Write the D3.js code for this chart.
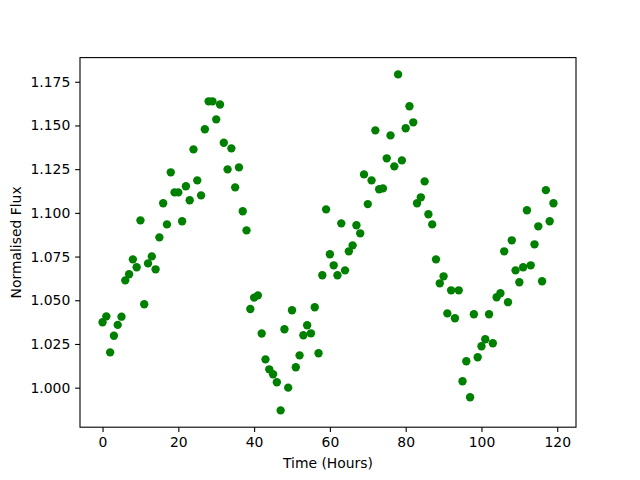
<!DOCTYPE html>
<html>
<head>
<meta charset="utf-8">
<script src="https://cdn.jsdelivr.net/npm/d3@7"></script>
<style>
  body { margin: 0; background: #fff; }
  text { font-family: "DejaVu Sans", sans-serif; }
</style>
</head>
<body>
<div id="chart"></div>
<script>
// hours since start of observation
const hours = d3.range(0, 120);

// normalised flux, one reading per hour
const flux = [
  1.0374, 1.0408, 1.0202, 1.0297, 1.0359, 1.0406, 1.0614, 1.0649, 1.0734, 1.0689,
  1.0957, 1.0477, 1.0711, 1.0751, 1.0677, 1.0860, 1.1055, 1.0934, 1.1232, 1.1117,
  1.1117, 1.0952, 1.1152, 1.1072, 1.1363, 1.1186, 1.1100, 1.1478, 1.1638, 1.1638,
  1.1535, 1.1620, 1.1401, 1.1249, 1.1369, 1.1146, 1.1260, 1.1009, 1.0900, 1.0450,
  1.0515, 1.0528, 1.0310, 1.0162, 1.0105, 1.0077, 1.0031, 0.9870, 1.0334, 1.0000,
  1.0443, 1.0117, 1.0185, 1.0300, 1.0357, 1.0311, 1.0460, 1.0197, 1.0643, 1.1020,
  1.0763, 1.0700, 1.0643, 1.0940, 1.0671, 1.0780, 1.0814, 1.0929, 1.0883, 1.1220,
  1.1050, 1.1186, 1.1472, 1.1135, 1.1140, 1.1312, 1.1443, 1.1266, 1.1792, 1.1300,
  1.1484, 1.1610, 1.1518, 1.1055, 1.1089, 1.1180, 1.0992, 1.0934, 1.0734, 1.0597,
  1.0637, 1.0425, 1.0557, 1.0397, 1.0557, 1.0037, 1.0151, 0.9945, 1.0420, 1.0174,
  1.0237, 1.0277, 1.0420, 1.0254, 1.0517, 1.0540, 1.0780, 1.0489, 1.0843, 1.0671,
  1.0603, 1.0689, 1.1015, 1.0700, 1.0820, 1.0923, 1.0609, 1.1130, 1.0952, 1.1055
];

const xTicks = [0, 20, 40, 60, 80, 100, 120];
const yTicks = [1.000, 1.025, 1.050, 1.075, 1.100, 1.125, 1.150, 1.175];

const data = hours.map((h, i) => ({ h: h, f: flux[i] }));

const W = 640, H = 480;
const margin = { top: 57.6, right: 64, bottom: 52.8, left: 80 },
  width = W - margin.left - margin.right,
  height = H - margin.top - margin.bottom;

const svg = d3.select("#chart")
  .append("svg")
  .attr("width", W)
  .attr("height", H);

const g = svg.append("g")
  .attr("transform", `translate(${margin.left},${margin.top})`);

// matplotlib style 5% padding around the data
function padded(ext) {
  const p = (ext[1] - ext[0]) * 0.05;
  return [ext[0] - p, ext[1] + p];
}

const x = d3.scaleLinear()
  .domain(padded(d3.extent(hours)))
  .range([0, width]);

const y = d3.scaleLinear()
  .domain(padded(d3.extent(flux)))
  .range([height, 0]);

// points
g.selectAll("circle.pt")
  .data(data)
  .join("circle")
  .attr("class", "pt")
  .attr("cx", d => x(d.h))
  .attr("cy", d => y(d.f))
  .attr("r", 4.17)
  .attr("fill", "#008000");

// axes
const xAxis = g.append("g")
  .attr("transform", `translate(0,${height})`)
  .call(d3.axisBottom(x).tickValues(xTicks).tickSize(4.86).tickPadding(4.9).tickFormat(d3.format("d")));

const yAxis = g.append("g")
  .call(d3.axisLeft(y).tickValues(yTicks).tickSize(4.86).tickPadding(4.9).tickFormat(d3.format(".3f")));

[xAxis, yAxis].forEach(a => {
  a.select(".domain").remove();
  a.selectAll("line").attr("stroke", "#000").attr("stroke-width", 1.1);
  a.selectAll("text")
    .attr("fill", "#000")
    .style("font-size", "13.9px")
    .style("font-family", "'DejaVu Sans', sans-serif");
});

// frame
g.append("rect")
  .attr("width", width)
  .attr("height", height)
  .attr("fill", "none")
  .attr("stroke", "#000")
  .attr("stroke-width", 1.1);

// axis labels
svg.append("text")
  .attr("x", margin.left + width / 2)
  .attr("y", 468)
  .attr("text-anchor", "middle")
  .style("font-size", "13.9px")
  .text("Time (Hours)");

svg.append("text")
  .attr("transform", `translate(21,${margin.top + height / 2}) rotate(-90)`)
  .attr("text-anchor", "middle")
  .style("font-size", "13.9px")
  .text("Normalised Flux");
</script>
</body>
</html>
